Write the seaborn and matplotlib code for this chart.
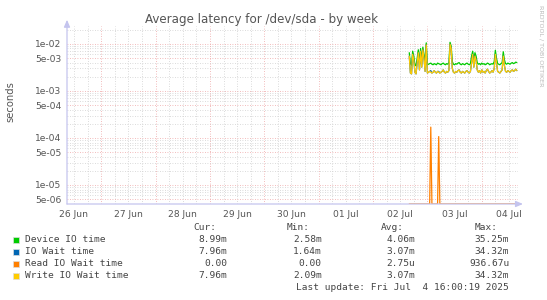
import numpy as np
import pandas as pd
import matplotlib
matplotlib.use("Agg")
import matplotlib.pyplot as plt
import seaborn as sns
from matplotlib.patches import Rectangle

# ---------------- data ----------------
title = "Average latency for /dev/sda - by week"
y_label = "seconds"
series_names = ["Device IO time", "IO Wait time", "Read IO Wait time", "Write IO Wait time"]
series_colors = ["#00cc00", "#0066b3", "#ff8000", "#ffcc00"]
cur_vals = ["8.99m", "7.96m", "0.00", "7.96m"]
min_vals = ["2.58m", "1.64m", "0.00", "2.09m"]
avg_vals = ["4.06m", "3.07m", "2.75u", "3.07m"]
max_vals = ["35.25m", "34.32m", "936.67u", "34.32m"]
last_update = "Last update: Fri Jul  4 16:00:19 2025"
day_labels = ["26 Jun", "27 Jun", "28 Jun", "29 Jun", "30 Jun", "01 Jul", "02 Jul", "03 Jul", "04 Jul"]
ytick_values = [1e-2, 5e-3, 1e-3, 5e-4, 1e-4, 5e-5, 1e-5, 5e-6]
ytick_labels = ["1e-02", "5e-03", "1e-03", "5e-04", "1e-04", "5e-05", "1e-05", "5e-06"]

data_start = "2025-07-02 16:00"   # first 30-minute sample
# values in milliseconds, one per 30 minutes
device_io_ms = [6.5, 3.8, 3.5, 7.0, 5.5, 3.6, 3.4, 5.0, 7.5, 4.0, 8.0, 4.5, 8.5, 6.0, 4.0, 10.5,
                3.6, 3.7, 3.8, 3.9, 3.7, 3.6, 3.8, 3.7, 3.6, 3.9, 3.8, 3.7, 3.6, 3.8, 3.9, 3.7,
                3.6, 3.8, 3.7, 4.0, 10.8, 9.0, 4.2, 3.7, 3.6, 3.8, 3.7, 3.9, 4.0, 3.7, 3.6, 3.8,
                3.7, 3.6, 3.8, 3.9, 3.7, 3.6, 3.8, 5.5, 7.0, 4.5, 6.5, 5.5, 4.0, 3.7, 3.8, 3.6,
                3.9, 3.7, 3.8, 3.6, 3.7, 3.9, 3.8, 3.6, 3.7, 3.8, 3.7, 4.2, 7.3, 5.0, 3.8, 3.7,
                3.6, 3.8, 4.0, 6.8, 4.6, 3.8, 3.7, 3.9, 3.8, 3.7, 3.9, 4.0, 3.8, 3.9, 4.1, 4.0]
write_wait_ms = [5.5, 2.4, 2.3, 6.0, 4.5, 2.5, 2.3, 4.0, 6.5, 2.8, 7.0, 3.2, 7.5, 5.0, 2.6, 9.5,
                 2.4, 2.5, 2.6, 2.5, 2.4, 2.5, 2.7, 2.5, 2.4, 2.6, 2.5, 2.4, 2.5, 2.6, 2.8, 2.5,
                 2.4, 2.6, 2.5, 2.7, 9.8, 8.0, 3.0, 2.5, 2.4, 2.6, 2.5, 2.7, 2.8, 2.5, 2.4, 2.6,
                 2.5, 2.4, 2.6, 2.7, 2.5, 2.4, 2.6, 4.0, 6.0, 3.2, 5.5, 4.5, 2.8, 2.5, 2.7, 2.4,
                 2.8, 2.5, 2.6, 2.4, 2.7, 2.9, 2.6, 2.4, 2.5, 2.7, 2.5, 3.0, 6.0, 4.0, 2.6, 2.5,
                 2.4, 2.6, 2.8, 5.5, 3.5, 2.6, 2.5, 2.7, 2.6, 2.5, 2.7, 2.8, 2.6, 2.7, 2.9, 2.7]
# blue series lies exactly beneath the yellow one in the picture
io_wait_ms = [5.5, 2.4, 2.3, 6.0, 4.5, 2.5, 2.3, 4.0, 6.5, 2.8, 7.0, 3.2, 7.5, 5.0, 2.6, 9.5,
              2.4, 2.5, 2.6, 2.7, 2.4, 2.5, 2.7, 2.5, 2.4, 2.6, 2.6, 2.4, 2.5, 2.6, 2.8, 2.5,
              2.4, 2.6, 2.5, 2.7, 9.8, 8.0, 3.0, 2.5, 2.4, 2.6, 2.5, 2.7, 2.8, 2.5, 2.4, 2.6,
              2.5, 2.4, 2.6, 2.7, 2.5, 2.4, 2.6, 4.0, 6.0, 3.2, 5.5, 4.5, 2.8, 2.5, 2.7, 2.4,
              2.8, 2.5, 2.6, 2.4, 2.7, 2.9, 2.6, 2.4, 2.5, 2.7, 2.5, 3.0, 6.0, 4.0, 2.6, 2.5,
              2.4, 2.6, 2.8, 5.5, 3.5, 2.6, 2.5, 2.7, 2.6, 2.5, 2.7, 2.8, 2.6, 2.7, 2.9, 2.7]
read_wait_ms = [0, 0, 0, 0, 0, 0, 0, 0, 0, 0, 0, 0, 0, 0, 0, 0,
                0, 0, 0, 0.17, 0, 0, 0, 0, 0, 0, 0.107, 0, 0, 0, 0, 0,
                0, 0, 0, 0, 0, 0, 0, 0, 0, 0, 0, 0, 0, 0, 0, 0,
                0, 0, 0, 0, 0, 0, 0, 0, 0, 0, 0, 0, 0, 0, 0, 0,
                0, 0, 0, 0, 0, 0, 0, 0, 0, 0, 0, 0, 0, 0, 0, 0,
                0, 0, 0, 0, 0, 0, 0, 0, 0, 0, 0, 0, 0, 0, 0, 0]

# ---------------- layout helpers ----------------
W, H = 547, 300
def fx(px): return px / W
def fy(py): return 1 - py / H

sns.set_theme(style="white")
plt.rcParams["font.family"] = ["DejaVu Sans"]

fig = plt.figure(figsize=(W / 100, H / 100), dpi=100, facecolor="white")
L, R, T, B = 67, 518, 26, 204
ax = fig.add_axes([fx(L), fy(B), (R - L) / W, (B - T) / H])
ax.set_facecolor("white")

times = pd.date_range(data_start, periods=len(device_io_ms), freq="30min")
x_lo = pd.Timestamp("2025-06-26 08:55")
x_hi = pd.Timestamp("2025-07-04 16:00")
y_lo, y_hi = 3.94e-6, 2.4e-2

ax.set_yscale("log")
ax.set_xlim(x_lo, x_hi)
ax.set_ylim(y_lo, y_hi)

# grid lines
minor_c = "#cfcfcf"
major_c = "#eea6a6"
dot = (0, (1, 2))
for d in pd.date_range("2025-06-26", "2025-07-05", freq="6h"):
    if x_lo < d < x_hi:
        is_major = d.hour == 0
        ax.axvline(d, color=major_c if is_major else minor_c, lw=0.6, ls=dot, zorder=0.5 if is_major else 0.4)
for e in range(-6, -1):
    for m in range(1, 10):
        v = m * 10.0 ** e
        if y_lo < v < y_hi:
            is_major = m in (1, 5)
            ax.axhline(v, color=major_c if is_major else minor_c, lw=0.6, ls=dot, zorder=0.5 if is_major else 0.4)

# series
ms = 1e-3
frames = {
    series_names[0]: np.array(device_io_ms) * ms,
    series_names[1]: np.array(io_wait_ms) * ms,
    series_names[2]: np.array(read_wait_ms) * ms,
    series_names[3]: np.array(write_wait_ms) * ms,
}
for name, col in zip(series_names, series_colors):
    vals = frames[name]
    shown = np.where(vals > 0, vals, y_lo)  # rrdtool draws zero on the bottom edge
    df = pd.DataFrame({"time": times, "value": shown})
    sns.lineplot(data=df, x="time", y="value", ax=ax, color=col, linewidth=0.9, zorder=3)

# ticks
for s in ax.spines.values():
    s.set_visible(False)
ax.set_xlabel("")
ax.set_ylabel("")
ax.set_yticks(ytick_values)
ax.set_yticklabels(ytick_labels)
ax.yaxis.set_minor_locator(matplotlib.ticker.NullLocator())
ax.tick_params(axis="y", length=0, pad=4, labelsize=6.6, labelcolor="#555555")

mid = pd.date_range("2025-06-27", "2025-07-04", freq="D")
noon = pd.date_range("2025-06-26 12:00", "2025-07-04 12:00", freq="D")
ax.set_xticks(mid)
ax.set_xticklabels([""] * len(mid))
ax.set_xticks(noon, minor=True)
ax.set_xticklabels(day_labels, minor=True)
ax.tick_params(axis="x", which="major", length=2, color="#e08080", width=0.8, direction="out")
ax.tick_params(axis="x", which="minor", length=0, pad=4, labelsize=6.6, labelcolor="#555555")

# axes with small arrows
axis_c = "#c4c4ee"
ax.annotate("", xy=(0, 1.035), xytext=(0, 0), xycoords="axes fraction",
            arrowprops=dict(arrowstyle="-|>,head_length=0.35,head_width=0.15", color=axis_c, lw=0.9,
                            shrinkA=0, shrinkB=0), annotation_clip=False, zorder=5)
ax.annotate("", xy=(1.011, 0), xytext=(0, 0), xycoords="axes fraction",
            arrowprops=dict(arrowstyle="-|>,head_length=0.35,head_width=0.15", color=axis_c, lw=0.9,
                            shrinkA=0, shrinkB=0), annotation_clip=False, zorder=5)

# title and labels
fig.text(fx(262), fy(20), title, ha="center", va="center", fontsize=8.6, color="#555555")
fig.text(fx(10), fy(102), y_label, ha="center", va="center", rotation=90, fontsize=7.2, color="#555555")
fig.text(fx(541), fy(5), "RRDTOOL / TOBI OETIKER", ha="center", va="top", rotation=270,
         fontsize=4.6, color="#bbbbbb")

# legend
mono = dict(family="DejaVu Sans Mono", fontsize=6.8, color="#444444")
head_y = 227.7
for hdr, xl in zip(["Cur:", "Min:", "Avg:", "Max:"], [193, 287, 381, 475]):
    fig.text(fx(xl), fy(head_y), hdr, ha="left", va="center", **mono)
row_y = [239.5, 251.6, 263.7, 275.8]
for i, name in enumerate(series_names):
    yy = row_y[i]
    fig.patches.append(Rectangle((fx(13.2), fy(yy + 3)), 6 / W, 6 / H, transform=fig.transFigure,
                                 facecolor=series_colors[i], edgecolor="#dddddd", lw=0.5))
    fig.text(fx(25), fy(yy), name, ha="left", va="center", **mono)
    for val, xr in zip([cur_vals[i], min_vals[i], avg_vals[i], max_vals[i]], [227.5, 321.7, 415.2, 509.3]):
        fig.text(fx(xr), fy(yy), val, ha="right", va="center", **mono)
fig.text(fx(508.5), fy(287.5), last_update, ha="right", va="center", **mono)

fig.savefig("out.png", dpi=100, facecolor="white")
